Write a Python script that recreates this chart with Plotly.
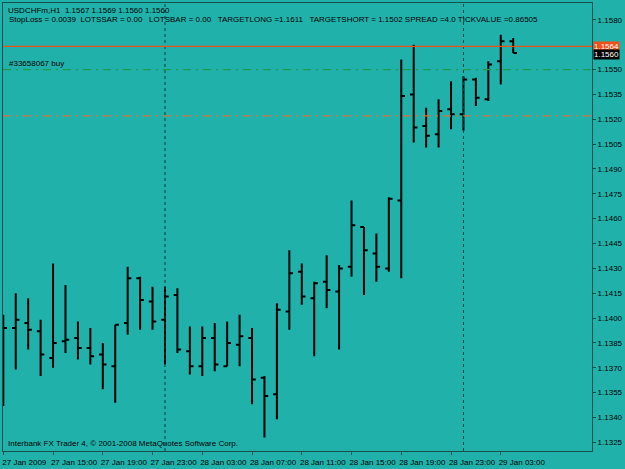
import plotly.graph_objects as go

# ---- data (USDCHFm, H1) ----
open_ = [1.1390, 1.1394, 1.1397, 1.1392, 1.1376, 1.1386, 1.1388, 1.1382, 1.1378, 1.1371,
         1.1397, 1.1424, 1.1410, 1.1399, 1.1414, 1.1380, 1.1371, 1.1388, 1.1371, 1.1384,
         1.1388, 1.1364, 1.1354, 1.1404, 1.1428, 1.1412, 1.1422, 1.1416, 1.1431, 1.1455,
         1.1439, 1.1430, 1.1471, 1.1535, 1.1516, 1.1511, 1.1526, 1.1523, 1.1544, 1.1532,
         1.1555, 1.1567]
high = [1.1402, 1.1415, 1.1412, 1.1399, 1.1433, 1.1420, 1.1398, 1.1394, 1.1385, 1.1396,
        1.1431, 1.1425, 1.1419, 1.1419, 1.1418, 1.1395, 1.1395, 1.1397, 1.1398, 1.1402,
        1.1394, 1.1365, 1.1409, 1.1441, 1.1433, 1.1422, 1.1438, 1.1432, 1.1471, 1.1455,
        1.1451, 1.1473, 1.1556, 1.1565, 1.1527, 1.1532, 1.1543, 1.1546, 1.1545, 1.1555,
        1.1571, 1.1569]
low = [1.1347, 1.1369, 1.1381, 1.1365, 1.1370, 1.1379, 1.1375, 1.1372, 1.1357, 1.1349,
       1.1390, 1.1393, 1.1393, 1.1372, 1.1379, 1.1366, 1.1365, 1.1368, 1.1371, 1.1371,
       1.1348, 1.1328, 1.1339, 1.1393, 1.1408, 1.1377, 1.1406, 1.1381, 1.1425, 1.1414,
       1.1422, 1.1428, 1.1424, 1.1506, 1.1503, 1.1503, 1.1514, 1.1513, 1.1528, 1.1531,
       1.1541, 1.1560]
close = [1.1394, 1.1399, 1.1393, 1.1378, 1.1385, 1.1387, 1.1382, 1.1377, 1.1372, 1.1396,
         1.1424, 1.1411, 1.1398, 1.1413, 1.1381, 1.1371, 1.1388, 1.1372, 1.1385, 1.1389,
         1.1363, 1.1353, 1.1405, 1.1427, 1.1413, 1.1421, 1.1417, 1.1430, 1.1456, 1.1441,
         1.1431, 1.1472, 1.1534, 1.1515, 1.1510, 1.1525, 1.1523, 1.1544, 1.1533, 1.1553,
         1.1567, 1.1560]
bar_index = list(range(len(close)))

x_tick_pos = [0, 4, 8, 12, 16, 20, 24, 28, 32, 36, 40]
x_tick_text = ["27 Jan 2009", "27 Jan 15:00", "27 Jan 19:00", "27 Jan 23:00", "28 Jan 03:00",
               "28 Jan 07:00", "28 Jan 11:00", "28 Jan 15:00", "28 Jan 19:00", "28 Jan 23:00",
               "29 Jan 03:00"]
y_tick_vals = [1.1580, 1.1550, 1.1535, 1.1520, 1.1505, 1.1490, 1.1475, 1.1460, 1.1445, 1.1430,
               1.1415, 1.1400, 1.1385, 1.1370, 1.1355, 1.1340, 1.1325]
day_separators = [13, 37]
ask_line = 1.1564
bid_price = 1.1560
order_level = 1.1550
target_level = 1.1522

header1 = "USDCHFm,H1  1.1567 1.1569 1.1560 1.1560"
header2 = ("StopLoss = 0.0039  LOTSSAR = 0.00   LOTSBAR = 0.00   TARGETLONG =1.1611   "
           "TARGETSHORT = 1.1502 SPREAD =4.0 TICKVALUE =0.86505")
order_label = "#33658067 buy"
footer = "Interbank FX Trader 4, © 2001-2008 MetaQuotes Software Corp."

BG = "#20B2AA"
FRAME = "#15504c"
FONT = "Liberation Sans"

fig = go.Figure()
fig.add_trace(go.Ohlc(
    x=bar_index, open=open_, high=high, low=low, close=close,
    increasing=dict(line=dict(color="black", width=2)),
    decreasing=dict(line=dict(color="black", width=2)),
    tickwidth=0.3, showlegend=False, hoverinfo="skip",
))

for s in day_separators:
    fig.add_vline(x=s, line=dict(color="#0d3d3a", width=1, dash="dot"))

fig.add_hline(y=ask_line, line=dict(color="#F0501A", width=1.2))
fig.add_hline(y=order_level, line=dict(color="#1E9A4E", width=1.2, dash="8px,5px,2px,5px"))
fig.add_hline(y=target_level, line=dict(color="#D9733A", width=1.2, dash="8px,5px,2px,5px"))

# price labels on the right
fig.add_annotation(x=1, xref="paper", y=ask_line, yref="y", text=f"{ask_line:.4f}",
                   xanchor="left", yanchor="middle", showarrow=False, xshift=1,
                   bgcolor="#F0501A", font=dict(family=FONT, size=8, color="white"),
                   borderpad=0)
fig.add_annotation(x=1, xref="paper", y=bid_price, yref="y", text=f"{bid_price:.4f}",
                   xanchor="left", yanchor="middle", showarrow=False, xshift=1, yshift=-2,
                   bgcolor="black", font=dict(family=FONT, size=8, color="white"),
                   borderpad=0)

# texts
fig.add_annotation(x=0, xref="paper", y=1, yref="paper", text=header1, xanchor="left",
                   yanchor="top", showarrow=False, xshift=3, yshift=-1,
                   font=dict(family=FONT, size=8, color="black"))
fig.add_annotation(x=0, xref="paper", y=1, yref="paper", text=header2, xanchor="left",
                   yanchor="top", showarrow=False, xshift=4, yshift=-10,
                   font=dict(family=FONT, size=8, color="black"))
fig.add_annotation(x=0, xref="paper", y=order_level, yref="y", text=order_label,
                   xanchor="left", yanchor="bottom", showarrow=False, xshift=4, yshift=0,
                   font=dict(family=FONT, size=8, color="black"))
fig.add_annotation(x=0, xref="paper", y=0, yref="paper", text=footer, xanchor="left",
                   yanchor="bottom", showarrow=False, xshift=3, yshift=1,
                   font=dict(family=FONT, size=8, color="black"))

fig.update_layout(
    width=625, height=469,
    margin=dict(l=2, r=31, t=2, b=14),
    paper_bgcolor=BG, plot_bgcolor=BG,
    font=dict(family=FONT, size=8, color="black"),
    xaxis=dict(range=[-0.024, 47.336], tickvals=x_tick_pos, ticktext=x_tick_text,
               ticks="outside", ticklen=3, tickcolor=FRAME, showgrid=False, zeroline=False,
               showline=True, linecolor=FRAME, linewidth=1, mirror=True,
               rangeslider=dict(visible=False), ticklabelshift=21, ticklabelstandoff=0,
               tickfont=dict(family=FONT, size=8, color="black")),
    yaxis=dict(range=[1.131981, 1.159015], side="right", tickvals=y_tick_vals,
               tickformat=".4f", ticks="outside", ticklen=3, tickcolor=FRAME,
               showgrid=False, zeroline=False, showline=True, linecolor=FRAME, linewidth=1,
               mirror=True, tickfont=dict(family=FONT, size=8, color="black")),
)

fig.write_html("out.html")
